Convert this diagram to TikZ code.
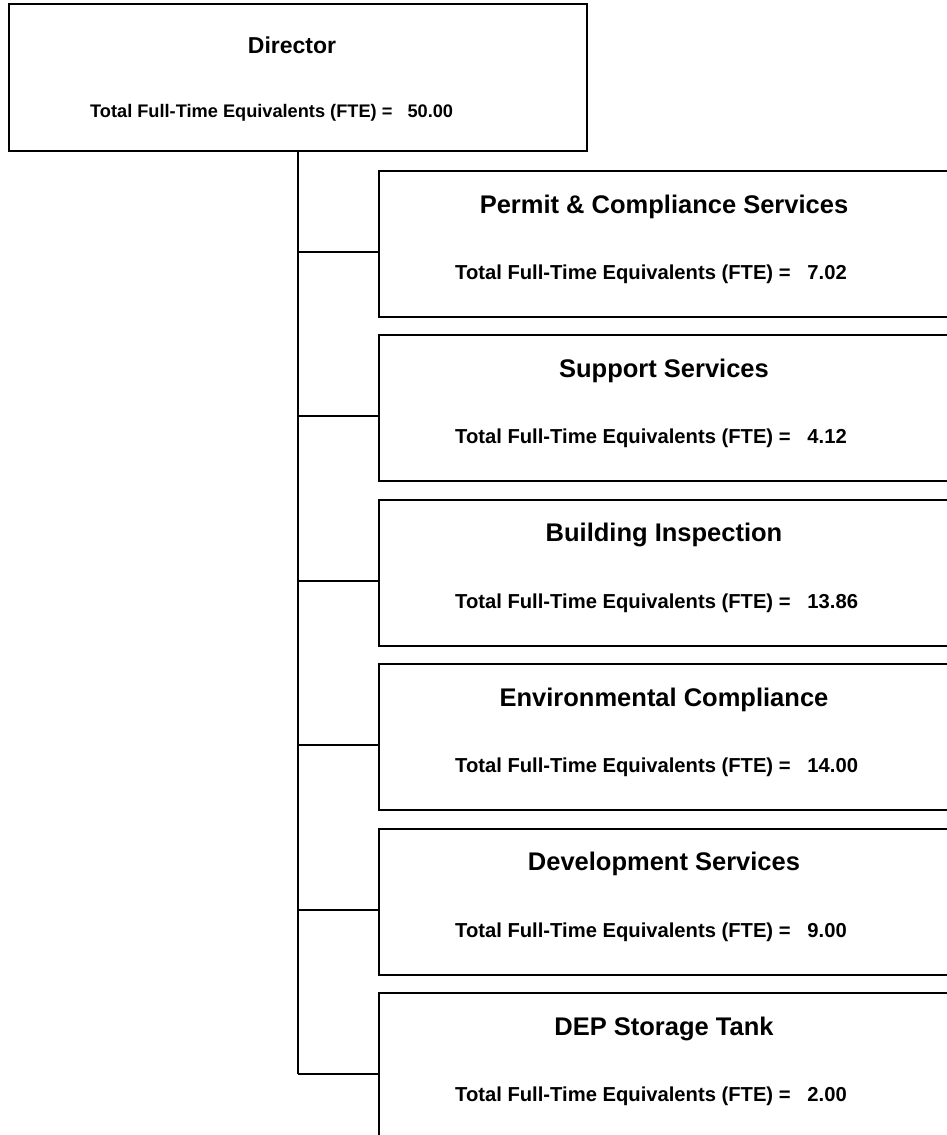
\documentclass[tikz,border=0pt]{standalone}
\usepackage{fontspec}
\setmainfont{Liberation Sans}
\usetikzlibrary{calc}
\begin{document}
\begin{tikzpicture}[x=1pt,y=-1pt,
  box/.style={draw,line width=2pt,minimum width=578pt,minimum height=146pt,anchor=north west,inner sep=0pt},
  ttl/.style={anchor=base,inner sep=0pt,font=\fontsize{25.5}{30}\selectfont\bfseries},
  fte/.style={anchor=base west,inner sep=0pt,font=\fontsize{20.2}{24}\selectfont\bfseries},
  conn/.style={line width=2pt}]
\useasboundingbox (0,0) rectangle (947,1135);
\clip (0,0) rectangle (947,1135);
\fill[white] (0,0) rectangle (947,1135);
% Director
\node[box,minimum height=147pt] (dir) at (8,3) {};
\node[anchor=base,inner sep=0pt,font=\fontsize{23}{27}\selectfont\bfseries] (dirt) at (292,53.5) {Director};
\node[anchor=base west,inner sep=0pt,font=\fontsize{18.2}{22}\selectfont\bfseries] (dirf) at (90,117.5) {Total Full-Time Equivalents (FTE) =~~~50.00};
% children
\foreach \i/\name/\val in {0/Permit \& Compliance Services/7.02,1/Support Services/4.12,2/Building Inspection/13.86,3/Environmental Compliance/14.00,4/Development Services/9.00,5/DEP Storage Tank/2.00}{
  \pgfmathsetmacro{\top}{170+164.4*\i}
  \node[box] (c\i) at (378,\top) {};
  \node[ttl] (t\i) at (664,\top+43) {\name};
  \node[fte] (f\i) at (455,\top+109.4) {Total Full-Time Equivalents (FTE) =~~~\val};
  \coordinate (p\i) at ($(c\i.north west)+(0,82)$);
  \draw[conn] (dir.south |- p\i) -- (p\i);
}
\draw[conn] (dir.south) -- (dir.south |- p5);
\end{tikzpicture}
\end{document}
